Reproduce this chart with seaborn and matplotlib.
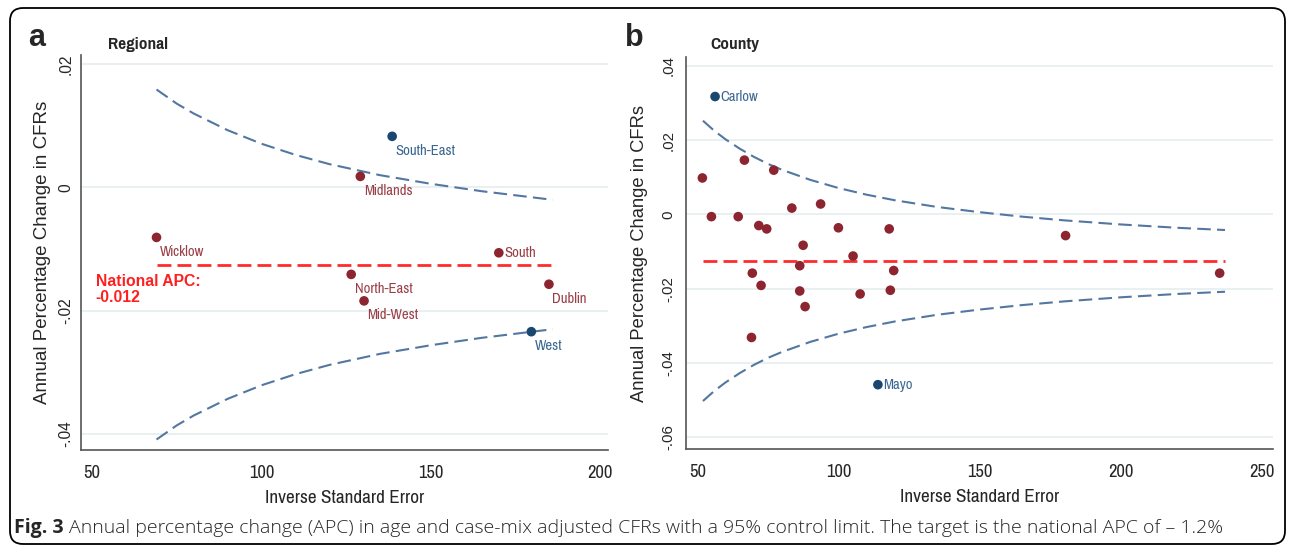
import numpy as np
import pandas as pd
import matplotlib
matplotlib.use("Agg")
import matplotlib.pyplot as plt
import seaborn as sns
from matplotlib.patches import FancyBboxPatch

sns.set_style("white")
plt.rcParams['font.family'] = ['Pragati Narrow', 'Liberation Sans', 'DejaVu Sans']

# national target APC
target = -0.0125
target_label = "National APC:\n-0.012"

# panel a - regions
region_names = ["South-East", "Midlands", "Wicklow", "South", "North-East", "Mid-West", "Dublin", "West"]
region_ise = [138.6, 129.2, 69.0, 170.1, 126.5, 130.3, 184.9, 179.7]
region_apc = [0.0083, 0.0018, -0.0081, -0.0106, -0.0141, -0.0184, -0.0157, -0.0234]
region_outside = [True, False, False, False, False, False, False, True]

# 95% control limits
region_limit_x = [69, 75, 80, 90, 100, 110, 120, 135, 150, 165, 186]
region_upper = [0.0159, 0.0136, 0.0120, 0.0093, 0.0071, 0.0053, 0.0038, 0.0020, 0.0006, -0.0006, -0.0020]
region_lower = [-0.0409, -0.0386, -0.0370, -0.0343, -0.0321, -0.0303, -0.0288, -0.0270, -0.0256, -0.0244, -0.0230]

# panel b - counties (only the two outliers are labelled)
county_names = ["Carlow", "Mayo"] + [""] * 24
county_ise = [56.3, 114.0, 51.8, 66.7, 77.1, 55.0, 64.5, 71.8, 74.6, 83.5, 93.7, 87.5, 100.0,
              118.0, 105.2, 86.3, 69.5, 119.6, 180.5, 235.1, 72.6, 86.3, 88.2, 107.7, 118.4, 69.2]
county_apc = [0.0317, -0.0458, 0.0098, 0.0146, 0.0119, -0.0006, -0.0006, -0.0030, -0.0039, 0.0017,
              0.0028, -0.0083, -0.0036, -0.0039, -0.0112, -0.0138, -0.0158, -0.0151, -0.0057,
              -0.0158, -0.0191, -0.0206, -0.0248, -0.0214, -0.0204, -0.0331]
county_outside = [True, True] + [False] * 24

county_limit_x = [52, 56, 60, 65, 70, 75, 80, 90, 100, 110, 120, 135, 150, 165, 180, 200, 220, 237]
county_upper = [0.0252, 0.0225, 0.0202, 0.0177, 0.0155, 0.0136, 0.0120, 0.0093, 0.0071, 0.0053,
                0.0038, 0.0020, 0.0006, -0.0006, -0.0016, -0.0027, -0.0036, -0.0042]
county_lower = [-0.0502, -0.0475, -0.0452, -0.0427, -0.0405, -0.0386, -0.0370, -0.0343, -0.0321,
                -0.0303, -0.0288, -0.0270, -0.0256, -0.0244, -0.0234, -0.0223, -0.0214, -0.0208]

region_xticks = [50, 100, 150, 200]
region_yticks = [-0.04, -0.02, 0, 0.02]
region_ytick_labels = ["-.04", "-.02", "0", ".02"]
county_xticks = [50, 100, 150, 200, 250]
county_yticks = [-0.06, -0.04, -0.02, 0, 0.02, 0.04]
county_ytick_labels = ["-.06", "-.04", "-.02", "0", ".02", ".04"]

caption_bold = "Fig. 3"
caption_text = ("Annual percentage change (APC) in age and case-mix adjusted CFRs with a 95% control limit. "
                "The target is the national APC of \u2013 1.2%")

RED = "#8c2530"
BLUE = "#1a476f"
RED_TXT = "#9a3f47"
BLUE_TXT = "#3a6791"
CURVE = "#5377a0"
TARGET = "#ff2b2b"
AXCOL = "#555555"
VFONT = "Liberation Sans"   # rotated (vertical) text keeps full-width letters

# where each label sits relative to its marker
label_side = {"South": "right", "Carlow": "right", "Mayo": "right"}


def funnel(ax, names, ise, apc, outside, lim_x, upper, lower, xticks, yticks, ylabels, xlim, ylim,
           ylab_size, ytick_size, ytick_pad, ylab_pad):
    df = pd.DataFrame({"ise": ise, "apc": apc, "name": names,
                       "grp": ["out" if o else "in" for o in outside]})
    lim = pd.DataFrame({"x": lim_x, "upper": upper, "lower": lower})

    sns.lineplot(data=lim, x="x", y="upper", ax=ax, color=CURVE, lw=1.5,
                 linestyle=(0, (6.5, 3)), errorbar=None)
    sns.lineplot(data=lim, x="x", y="lower", ax=ax, color=CURVE, lw=1.5,
                 linestyle=(0, (6.5, 3)), errorbar=None)
    sns.lineplot(x=[lim_x[0], lim_x[-1]], y=[target, target], ax=ax, color=TARGET, lw=2,
                 linestyle=(0, (5, 2.2)), errorbar=None)
    sns.scatterplot(data=df, x="ise", y="apc", hue="grp", palette={"in": RED, "out": BLUE},
                    s=48, edgecolor="none", legend=False, ax=ax, zorder=5)

    for _, r in df.iterrows():
        if not r["name"]:
            continue
        col = BLUE_TXT if r["grp"] == "out" else RED_TXT
        if label_side.get(r["name"]) == "right":
            off = (4, 0)
        else:
            off = (2.5, -10.5)
        ax.annotate(r["name"], (r["ise"], r["apc"]), xytext=off, textcoords="offset points",
                    ha="left", va="center", fontsize=11.5, color=col)

    ax.set_xlim(*xlim)
    ax.set_ylim(*ylim)
    ax.set_xticks(xticks)
    ax.set_xticklabels([str(t) for t in xticks])
    ax.set_yticks(yticks)
    ax.set_yticklabels(ylabels, rotation=90, va="center", family=VFONT, fontsize=ytick_size)
    ax.yaxis.grid(True, color="#e4eef0", lw=1.2)
    ax.xaxis.grid(False)
    ax.set_axisbelow(True)
    for s in ["top", "right"]:
        ax.spines[s].set_visible(False)
    for s in ["left", "bottom"]:
        ax.spines[s].set_color(AXCOL)
        ax.spines[s].set_linewidth(1.2)
    ax.tick_params(axis="y", direction="out", length=2.5, width=1, color=AXCOL, pad=ytick_pad)
    ax.tick_params(axis="x", direction="out", length=4, width=1, color=AXCOL, pad=7, labelsize=14.5)
    ax.set_xlabel("Inverse Standard Error", fontsize=15, labelpad=6)
    ax.set_ylabel("Annual Percentage Change in CFRs", fontsize=ylab_size, family=VFONT, labelpad=ylab_pad)


fig = plt.figure(figsize=(12.92, 5.48), dpi=100)
ax_a = fig.add_axes([81 / 1292, 1 - 450 / 548, 526.5 / 1292, 395 / 548])
ax_b = fig.add_axes([686 / 1292, 1 - 449 / 548, 587 / 1292, 391.5 / 548])

funnel(ax_a, region_names, region_ise, region_apc, region_outside,
       region_limit_x, region_upper, region_lower,
       region_xticks, region_yticks, region_ytick_labels, (46.7, 202.2), (-0.0426, 0.0215),
       13.5, 11.2, 3, 5)
funnel(ax_b, county_names, county_ise, county_apc, county_outside,
       county_limit_x, county_upper, county_lower,
       county_xticks, county_yticks, county_ytick_labels, (46, 254), (-0.0631, 0.0422),
       13.2, 10.8, 5, 10)

ax_a.text(51, -0.0166, target_label, color="#ff1f1f", fontweight="bold", fontsize=11.3,
          family="Liberation Sans", ha="left", va="center", linespacing=1.05)

# panel letters and titles
fig.text(28 / 1292, 1 - 38 / 548, "a", fontsize=22, fontweight="bold", family="Liberation Sans",
         ha="left", va="center")
fig.text(625 / 1292, 1 - 38 / 548, "b", fontsize=22, fontweight="bold", family="Liberation Sans",
         ha="left", va="center")
fig.text(108 / 1292, 1 - 45 / 548, "Regional", fontsize=13.5, fontweight="bold", ha="left", va="center")
fig.text(710 / 1292, 1 - 44 / 548, "County", fontsize=13.5, fontweight="bold", ha="left", va="center")

# caption
cap1 = fig.text(14 / 1292, 1 - 528 / 548, caption_bold, fontsize=14, fontweight="bold",
                family="Open Sans", ha="left", va="center")
fig.canvas.draw()
bb = cap1.get_window_extent()
fig.text((bb.x1 + 5) / 1292, 1 - 528 / 548, caption_text, fontsize=14, family="Open Sans",
         fontweight="light", ha="left", va="center")

# rounded frame around the figure
frame = FancyBboxPatch((0.10, 0.04), 12.75, 5.36, boxstyle="round,pad=0,rounding_size=0.13",
                       transform=fig.dpi_scale_trans, fill=False, edgecolor="black", lw=1.3)
fig.patches.append(frame)

fig.savefig("out.png", dpi=100)
